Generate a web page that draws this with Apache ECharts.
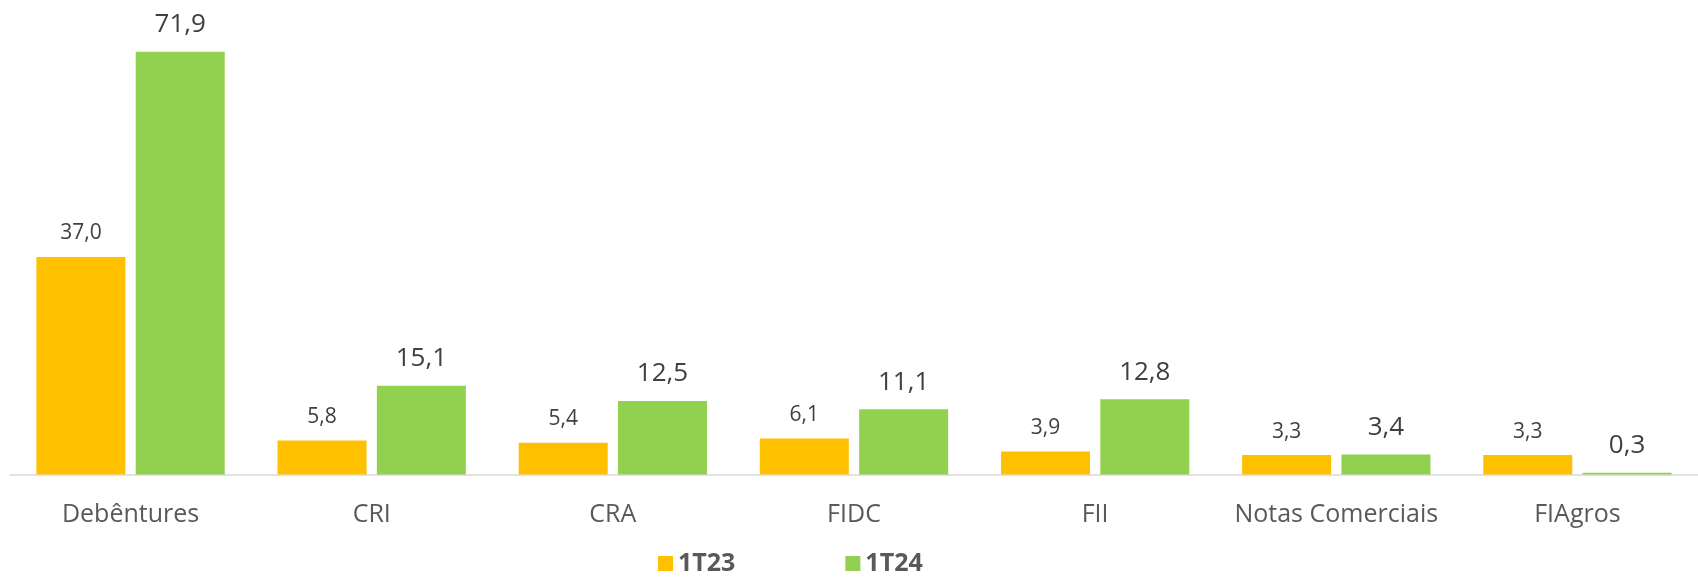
<!DOCTYPE html>
<html>
<head>
<meta charset="utf-8">
<script src="https://cdn.jsdelivr.net/npm/echarts@6/dist/echarts.min.js"></script>
<style>
  html, body { margin: 0; padding: 0; background: #fff; }
  #chart { width: 1698px; height: 577px; }
</style>
</head>
<body>
<div id="chart"></div>
<script>
const categories = ['Debêntures', 'CRI', 'CRA', 'FIDC', 'FII', 'Notas Comerciais', 'FIAgros']
const values1T23 = [37.0, 5.8, 5.4, 6.1, 3.9, 3.3, 3.3]
const values1T24 = [71.9, 15.1, 12.5, 11.1, 12.8, 3.4, 0.3]

const ORANGE = '#FFC000'
const GREEN = '#92D050'
const FONT = '"Open Sans", sans-serif'

const fmt = (p) => p.value.toFixed(1).replace('.', ',')

const chart = echarts.init(document.getElementById('chart'))
chart.setOption({
  animation: false,
  backgroundColor: '#fff',
  textStyle: { fontFamily: FONT },
  grid: { left: 10, width: 1700, top: 4, bottom: 102.5, containLabel: false },
  legend: {
    left: 658, top: 551, padding: 0,
    itemWidth: 15, itemHeight: 15, itemGap: 110,
    icon: 'rect',
    textStyle: { color: '#595959', fontSize: 25, fontWeight: 'bold', fontFamily: FONT },
    data: ['1T23', '1T24'],
  },
  xAxis: {
    type: 'category',
    data: categories,
    axisLine: { lineStyle: { color: '#d9d9d9', width: 1.5 } },
    axisTick: { show: false },
    axisLabel: { interval: 0, color: '#595959', fontSize: 25, margin: 28, fontFamily: FONT },
  },
  yAxis: {
    type: 'value', min: 0, max: 80,
    show: false,
    splitLine: { show: false },
  },
  series: [
    {
      name: '1T23', type: 'bar', data: values1T23,
      barWidth: 89, barGap: '11.6%',
      itemStyle: { color: ORANGE },
      label: { show: true, position: 'top', distance: 13, color: '#404040', fontSize: 21, formatter: fmt, fontFamily: FONT },
    },
    {
      name: '1T24', type: 'bar', data: values1T24,
      barWidth: 89,
      itemStyle: { color: GREEN },
      label: { show: true, position: 'top', distance: 14, color: '#404040', fontSize: 26, formatter: fmt, fontFamily: FONT },
    },
  ],
})
</script>
</body>
</html>
